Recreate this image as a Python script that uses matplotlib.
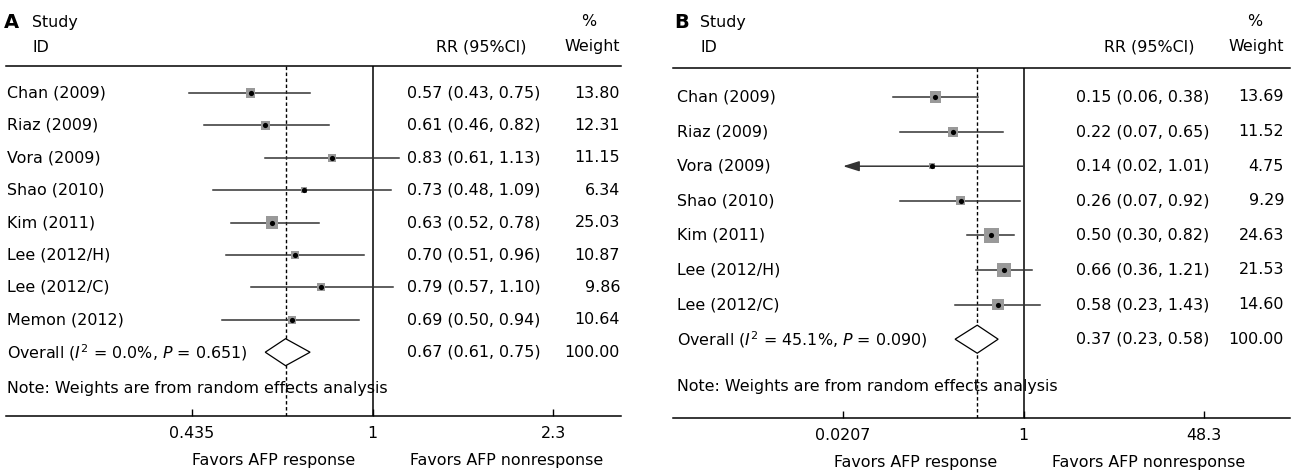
import numpy as np
import matplotlib
matplotlib.use("Agg")
import matplotlib.pyplot as plt
from matplotlib.patches import Polygon
from matplotlib.transforms import blended_transform_factory

# panel A data
studies_a = ["Chan (2009)", "Riaz (2009)", "Vora (2009)", "Shao (2010)",
             "Kim (2011)", "Lee (2012/H)", "Lee (2012/C)", "Memon (2012)"]
rr_a = [0.57, 0.61, 0.83, 0.73, 0.63, 0.70, 0.79, 0.69]
lo_a = [0.43, 0.46, 0.61, 0.48, 0.52, 0.51, 0.57, 0.50]
hi_a = [0.75, 0.82, 1.13, 1.09, 0.78, 0.96, 1.10, 0.94]
wt_a = [13.80, 12.31, 11.15, 6.34, 25.03, 10.87, 9.86, 10.64]
overall_a = [0.67, 0.61, 0.75]
het_a = "Overall ($I^2$ = 0.0%, $P$ = 0.651)"
ticks_a = [0.435, 1, 2.3]
ticklabels_a = ["0.435", "1", "2.3"]

# panel B data
studies_b = ["Chan (2009)", "Riaz (2009)", "Vora (2009)", "Shao (2010)",
             "Kim (2011)", "Lee (2012/H)", "Lee (2012/C)"]
rr_b = [0.15, 0.22, 0.14, 0.26, 0.50, 0.66, 0.58]
lo_b = [0.06, 0.07, 0.02, 0.07, 0.30, 0.36, 0.23]
hi_b = [0.38, 0.65, 1.01, 0.92, 0.82, 1.21, 1.43]
wt_b = [13.69, 11.52, 4.75, 9.29, 24.63, 21.53, 14.60]
overall_b = [0.37, 0.23, 0.58]
het_b = "Overall ($I^2$ = 45.1%, $P$ = 0.090)"
ticks_b = [0.0207, 1, 48.3]
ticklabels_b = ["0.0207", "1", "48.3"]

note = "Note: Weights are from random effects analysis"

W, H = 1296, 472
FS = 11.4
plt.rcParams['font.family'] = ['DejaVu Sans']
plt.rcParams['font.size'] = FS
plt.rcParams['mathtext.fontset'] = 'dejavusans'

fig = plt.figure(figsize=(W / 100, H / 100), dpi=100)


def fx(px):
    return px / W


def fy(py):
    return 1 - py / H


def draw_panel(letter, studies, rr, lo, hi, wt, overall, het, ticks, ticklabels, lay):
    x0, x1, y0, y1 = lay['x0'], lay['x1'], lay['y0'], lay['y1']
    ax = fig.add_axes([fx(x0), fy(y1), (x1 - x0) / W, (y1 - y0) / H])
    ax.set_xscale('log')
    ax.set_xlim(np.exp((x0 - lay['one']) / lay['b']), np.exp((x1 - lay['one']) / lay['b']))
    ax.set_ylim((y1 - lay['row0']) / lay['step'], (y0 - lay['row0']) / lay['step'])

    for s in ['left', 'right']:
        ax.spines[s].set_visible(False)
    ax.spines['top'].set_linewidth(1.1)
    ax.spines['bottom'].set_linewidth(1.1)
    ax.set_yticks([])
    ax.set_xticks(ticks)
    ax.set_xticklabels(ticklabels)
    ax.xaxis.set_minor_locator(matplotlib.ticker.NullLocator())
    ax.tick_params(axis='x', direction='in', length=5, width=1, pad=7.5, labelsize=FS)

    n = len(studies)
    rows = np.arange(n)
    ax.axvline(1, color='black', lw=1.1, zorder=1)
    ax.axvline(overall[0], color='black', lw=1, ls=(0, (2.5, 1.8)), zorder=1)

    # CIs running past the axis end get an arrow
    xmin = ticks[0] * 0.97
    for i in range(n):
        if lo[i] < xmin:
            ax.annotate('', xy=(ticks[0], rows[i]), xytext=(hi[i], rows[i]),
                        arrowprops=dict(arrowstyle='-|>,head_length=0.7,head_width=0.22',
                                        mutation_scale=14, color='#333333', lw=1.1,
                                        shrinkA=0, shrinkB=0), zorder=2)
        else:
            ax.plot([lo[i], hi[i]], [rows[i], rows[i]], color='#333333', lw=1.1, zorder=2)

    sizes = (0.72 * lay['sq'] * np.sqrt(np.array(wt))) ** 2
    ax.scatter(rr, rows, marker='s', s=sizes, color='#999999', lw=0, zorder=3)
    ax.scatter(rr, rows, marker='o', s=14, color='black', lw=0, zorder=4)

    est, clo, chi = overall
    h = lay['dia'] / lay['step']
    ax.add_patch(Polygon([(clo, n), (est, n - h), (chi, n), (est, n + h)],
                         closed=True, facecolor='white', edgecolor='black', lw=0.9, zorder=3))

    # row texts, y tied to data rows
    tr = blended_transform_factory(fig.transFigure, ax.transData)
    for i in range(n):
        ax.text(fx(lay['name']), rows[i], studies[i], transform=tr, va='center', ha='left')
        ax.text(fx(lay['ci']), rows[i], "%.2f (%.2f, %.2f)" % (rr[i], lo[i], hi[i]),
                transform=tr, va='center', ha='left')
        ax.text(fx(lay['wt']), rows[i], "%.2f" % wt[i], transform=tr, va='center', ha='right')
    ax.text(fx(lay['name']), n, het, transform=tr, va='center', ha='left')
    ax.text(fx(lay['ci']), n, "%.2f (%.2f, %.2f)" % (est, clo, chi),
            transform=tr, va='center', ha='left')
    ax.text(fx(lay['wt']), n, "100.00", transform=tr, va='center', ha='right')

    # headers and footer
    fig.text(fx(lay['letter']), fy(22), letter, fontsize=14, fontweight='bold', va='center')
    fig.text(fx(lay['study']), fy(22), "Study", va='center')
    fig.text(fx(lay['study']), fy(47), "ID", va='center')
    fig.text(fx(lay['pct']), fy(22), "%", va='center', ha='center')
    fig.text(fx(lay['rr']), fy(47), "RR (95%CI)", va='center', ha='right')
    fig.text(fx(lay['wt']), fy(47), "Weight", va='center', ha='right')
    fig.text(fx(lay['name']), fy(lay['note']), note, va='center')
    fig.text(fx(lay['fav_l']), fy(lay['fav_y']), "Favors AFP response", va='center', ha='right')
    fig.text(fx(lay['fav_r']), fy(lay['fav_y']), "Favors AFP nonresponse", va='center', ha='left')
    return ax


lay_a = dict(x0=6, x1=621, y0=66, y1=416, one=372.5, b=217.0, row0=93, step=32.4,
             sq=2.5, dia=13.5, name=7, ci=407, wt=620, rr=527, pct=589, letter=4,
             study=32, note=388, fav_l=355, fav_r=410, fav_y=460)
lay_b = dict(x0=673, x1=1290, y0=68, y1=418, one=1023.5, b=46.55, row0=97, step=34.6,
             sq=3.0, dia=14.0, name=677, ci=1076, wt=1284, rr=1195, pct=1255, letter=674,
             study=700, note=386, fav_l=997, fav_r=1052, fav_y=462)

draw_panel("A", studies_a, rr_a, lo_a, hi_a, wt_a, overall_a, het_a, ticks_a, ticklabels_a, lay_a)
draw_panel("B", studies_b, rr_b, lo_b, hi_b, wt_b, overall_b, het_b, ticks_b, ticklabels_b, lay_b)

fig.savefig("out.png", dpi=100)
